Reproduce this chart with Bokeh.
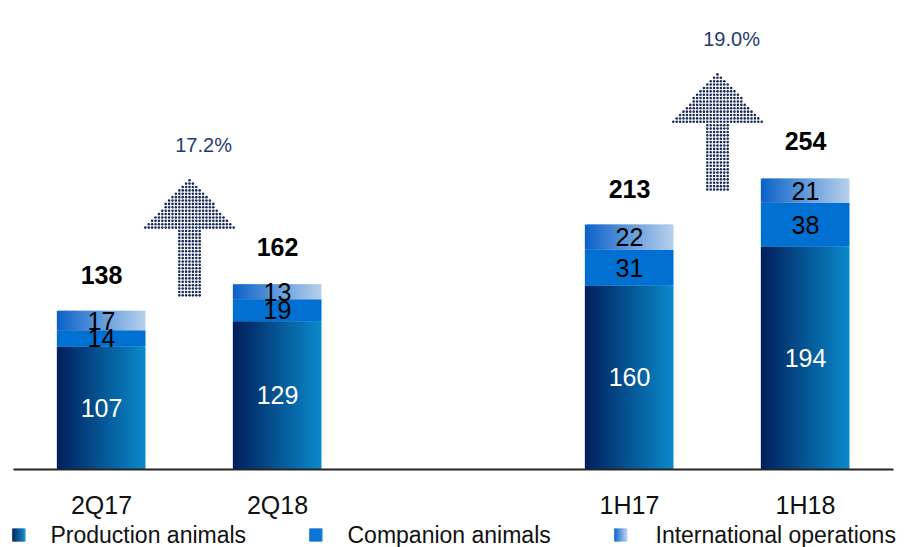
import numpy as np
from bokeh.plotting import figure
from bokeh.models import ColumnDataSource, Range1d, FixedTicker
from bokeh.layouts import column
from bokeh.core.properties import value
from bokeh.embed import file_html
from bokeh.resources import INLINE

# ---------------- data ----------------
periods = ["2Q17", "2Q18", "1H17", "1H18"]
positions = [0, 1, 3, 4]
production = [107, 129, 160, 194]
companion = [14, 19, 31, 38]
international = [17, 13, 22, 21]
totals = [138, 162, 213, 254]
growth_labels = ["17.2%", "19.0%"]
growth_pairs = [(0, 1), (2, 3)]
series_names = ["Production animals", "Companion animals", "International operations"]

# ---------------- style / geometry ----------------
FONT = value("Liberation Sans")
PROD = ("#01205c", "#0a88ca")
COMP = ("#0070d2", "#0070d2")
INTL = ("#0d63c9", "#b4cfeb")
NAVY = "#1b2a5c"
BAR_W = 0.5
N = 40

W = 911
MAIN_H = 521
FRAME_H = 473
LEG_H = 547 - MAIN_H
PX_X = 176.0          # pixels per category unit
PX_Y = 1.155          # pixels per value unit
X0 = -101 / PX_X
X1 = X0 + W / PX_X
Y0 = -2 / PX_Y
Y1 = Y0 + FRAME_H / PX_Y


def hex2rgb(h):
    h = h.lstrip("#")
    return np.array([int(h[i:i + 2], 16) for i in (0, 2, 4)], dtype=float)


def mix(c0, c1, t):
    a, b = hex2rgb(c0), hex2rgb(c1)
    c = a + (b - a) * t
    return "#%02x%02x%02x" % tuple(int(round(v)) for v in c)


def gradient_slices(xc, width, bottom, top, cols, n=N):
    xs, ws, bs, ts, cs = [], [], [], [], []
    for i in range(len(xc)):
        for k in range(n):
            t = k / (n - 1)
            sw = width / n
            xs.append(xc[i] - width / 2 + (k + 0.5) * sw)
            ws.append(sw * (1.6 if k < n - 1 else 1.0))
            bs.append(bottom[i])
            ts.append(top[i])
            cs.append(mix(cols[0], cols[1], t))
    return dict(x=xs, w=ws, b=bs, t=ts, c=cs)


prod_top = list(production)
comp_top = [a + b for a, b in zip(production, companion)]
intl_top = [a + b for a, b in zip(comp_top, international)]

p = figure(width=W, height=MAIN_H, x_range=Range1d(X0, X1),
           y_range=Range1d(Y0, Y1), toolbar_location=None,
           output_backend="svg", y_axis_location=None,
           min_border_left=0, min_border_right=0, min_border_top=0,
           min_border_bottom=MAIN_H - FRAME_H)
p.outline_line_color = None
p.xgrid.visible = False
p.ygrid.visible = False

for bottoms, tops, cols in [([0] * 4, prod_top, PROD),
                            (prod_top, comp_top, COMP),
                            (comp_top, intl_top, INTL)]:
    src = ColumnDataSource(gradient_slices(positions, BAR_W, bottoms, tops, cols))
    p.vbar(x="x", width="w", bottom="b", top="t", fill_color="c",
           line_color=None, source=src)

# baseline (category axis line)
p.segment(x0=[positions[0] - 0.5], y0=[0], x1=[positions[-1] + 0.5], y1=[0],
          line_color="#262626", line_width=2)

# segment labels
mid_prod = [v / 2 for v in production]
mid_comp = [a + b / 2 for a, b in zip(prod_top, companion)]
mid_intl = [a + b / 2 for a, b in zip(comp_top, international)]
for mids, vals, col in [(mid_prod, production, "white"),
                        (mid_comp, companion, "black"),
                        (mid_intl, international, "black")]:
    p.text(x=positions, y=mids, text=[str(v) for v in vals], text_font=FONT,
           text_font_size="25px", text_align="center", text_baseline="middle",
           text_color=col)

# totals
p.text(x=positions, y=totals, text=[str(v) for v in totals], text_font=FONT,
       text_font_size="25px", text_font_style="bold", text_align="center",
       text_baseline="middle", text_color="black", y_offset=-36)

# growth arrows drawn as dot grids
dx = 3.4 / PX_X
dy = 3.4 / PX_Y
dot_x, dot_y, lx, ly = [], [], [], []
for a, b in growth_pairs:
    cx = (positions[a] + positions[b]) / 2
    tip = totals[b] + 91
    head = tip - 43
    base = tip - 104
    hw, sw = 0.264, 0.058
    y = tip - dy * 0.5
    while y >= base:
        if y >= head:
            half = hw * (tip - y) / (tip - head)
        else:
            half = sw
        m = int(np.floor(half / dx + 1e-9))
        for j in range(-m, m + 1):
            dot_x.append(cx + j * dx)
            dot_y.append(y)
        y -= dy
    lx.append(cx + 0.08)
    ly.append(tip)
p.scatter(dot_x, dot_y, marker="circle", size=2.6, fill_color=NAVY,
          line_color=None)
p.text(x=lx, y=ly, text=growth_labels, text_font=FONT, text_font_size="20px",
       text_align="center", text_baseline="middle", text_color="#1f3a73",
       y_offset=-34)

# x axis (labels only; the line is drawn above as the baseline)
p.xaxis.ticker = FixedTicker(ticks=positions)
p.xaxis.major_label_overrides = {pos: lab for pos, lab in zip(positions, periods)}
p.xaxis.axis_line_color = None
p.xaxis.major_tick_line_color = None
p.xaxis.minor_tick_line_color = None
p.xaxis.major_tick_out = 0
p.xaxis.major_tick_in = 0
p.xaxis.major_label_text_font = "Liberation Sans"
p.xaxis.major_label_text_font_size = "25px"
p.xaxis.major_label_text_color = "#111111"
p.xaxis.major_label_standoff = 19

# ---------------- legend strip ----------------
leg = figure(width=W, height=LEG_H, x_range=Range1d(0, W), y_range=Range1d(0, LEG_H),
             toolbar_location=None, output_backend="svg", x_axis_location=None,
             y_axis_location=None, min_border=0)
leg.outline_line_color = None
leg.xgrid.visible = False
leg.ygrid.visible = False

LY = LEG_H - 13.5
sq_x = [18.5, 315.5, 620.5]
tx_x = [50, 347, 655]
SQ = 13
for cx, cols in zip(sq_x, [PROD, COMP, INTL]):
    src = ColumnDataSource(gradient_slices([cx], SQ, [LY - SQ / 2], [LY + SQ / 2], cols, n=13))
    leg.vbar(x="x", width="w", bottom="b", top="t", fill_color="c",
             line_color=None, source=src)
leg.text(x=tx_x, y=[LY] * 3, text=series_names, text_font=FONT,
         text_font_size="23px", text_align="left", text_baseline="middle",
         text_color="#111111")

layout = column(p, leg, spacing=0)
open("out.html", "w").write(file_html(layout, INLINE))
